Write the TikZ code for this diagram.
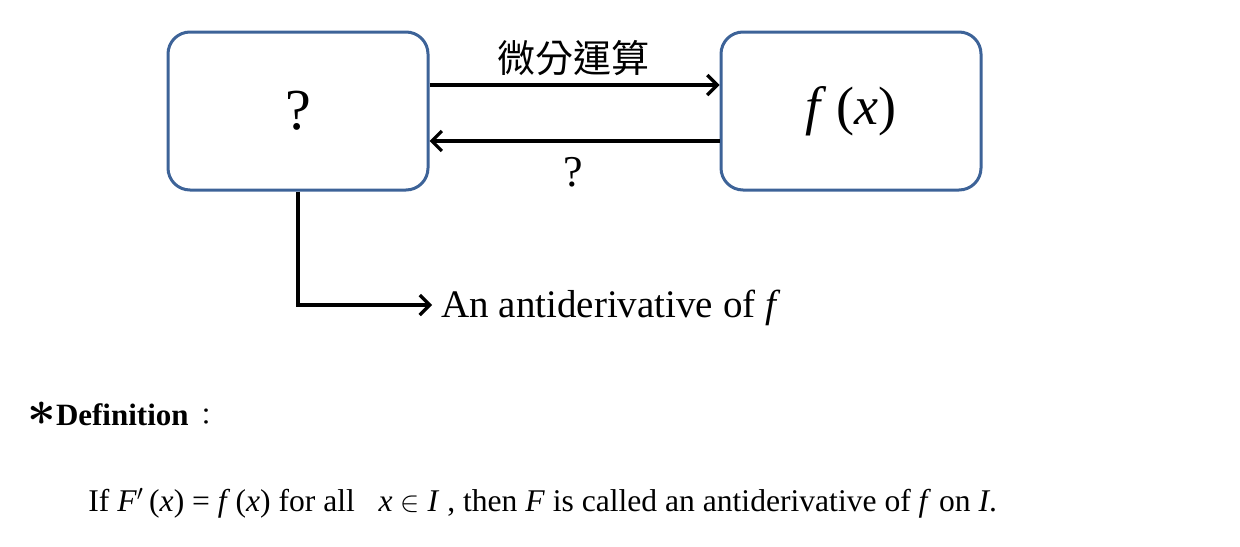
\documentclass[tikz,border=0pt]{standalone}
\usepackage{fontspec}
\setmainfont{Liberation Serif}
\newfontfamily\cjk{Noto Sans CJK TC}
\usetikzlibrary{arrows.meta}
\definecolor{boxblue}{HTML}{3D6398}

\begin{document}
\begin{tikzpicture}[x=0.5pt, y=-0.5pt,
    box/.style={draw=boxblue, line width=1.5pt, rounded corners=11pt, minimum width=130pt, minimum height=79pt, inner sep=0pt},
    arr/.style={-{Straight Barb[length=5pt, width=10pt]}, line width=1.6pt},
    lbl/.style={inner sep=0pt}
]
\useasboundingbox (0,0) rectangle (1240,546);

\node[box] (qbox) at (298,111) {\fontsize{29}{30}\selectfont ?};
\node[box] (fbox) at (851,111) {\fontsize{27}{28}\selectfont \textit{f}\,(\textit{x})};
\node[lbl] (diff) at (573,58) {\cjk\fontsize{19}{19}\selectfont 微分運算};
\node[lbl] (inv) at (573,172) {\fontsize{22}{22}\selectfont ?};
\node[lbl, anchor=base west] (anti) at (441,317) {\fontsize{19.5}{20}\selectfont An antiderivative of \textit{f}};
\coordinate (tip) at (432,305);

\draw[arr] ([yshift=13pt]qbox.east) -- ([yshift=13pt]fbox.west);
\draw[arr] ([yshift=-15pt]fbox.west) -- ([yshift=-15pt]qbox.east);
\draw[arr] (qbox.south) |- (tip);

% definition
\node[lbl, anchor=base west] (defn) at (27,425) {\fontsize{15.5}{16}\selectfont{\fontsize{24}{24}\selectfont\boldmath$\ast$}\textbf{Definition}\hspace{3pt}{\cjk\fontsize{12}{12}\selectfont ：}};
\node[lbl, anchor=base west] (rule) at (88,511) {\fontsize{15.8}{16}\selectfont If \textit{F}$'$\,(\textit{x}) = \textit{f}\,(\textit{x}) for all \ \ \textit{x} $\in$ \textit{I} , then \textit{F} is called an antiderivative of \textit{f} on \textit{I}.};
\end{tikzpicture}
\end{document}
